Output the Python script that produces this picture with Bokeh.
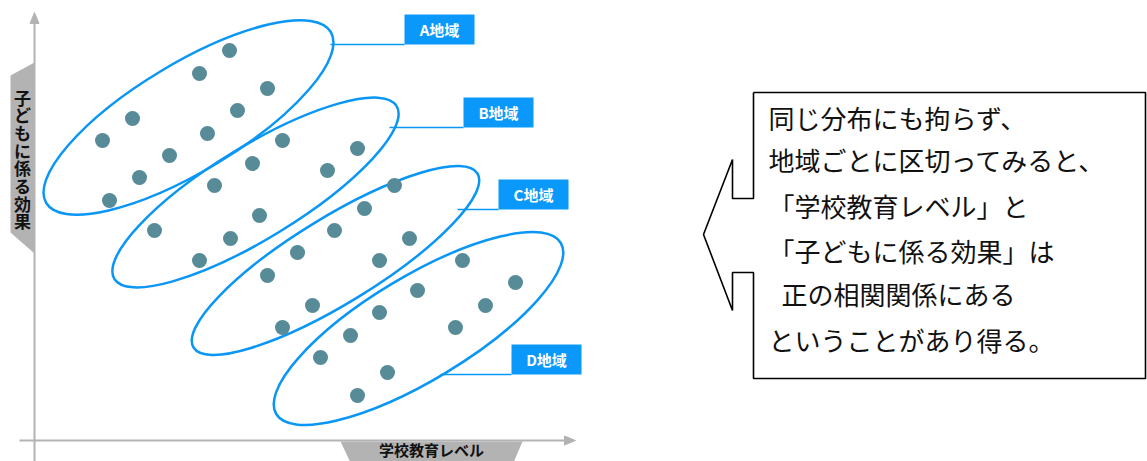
from bokeh.plotting import figure
from bokeh.models import Range1d
from bokeh.core.properties import value
from bokeh.embed import file_html
from bokeh.resources import INLINE
import math

# ---------------- data (x: 学校教育レベル, y: 子どもに係る効果) ----------------
regions = ["A地域", "B地域", "C地域", "D地域"]

a_x = [195, 165, 233, 203, 98, 68, 173, 135, 105, 75]
a_y = [390, 367, 352, 330, 322, 300, 307, 285, 263, 240]

b_x = [248, 323, 218, 293, 180, 225, 120, 196, 165]
b_y = [300, 292, 277, 270, 255, 225, 210, 202, 180]

c_x = [360, 330, 300, 375, 263, 345, 233, 278, 248]
c_y = [255, 232, 210, 202, 188, 180, 165, 135, 113]

d_x = [428, 481, 383, 451, 345, 421, 316, 286, 353, 323]
d_y = [180, 158, 150, 135, 128, 113, 105, 83, 68, 45]

x_label = "学校教育レベル"
y_label = "子どもに係る効果"
note_lines = [
    "同じ分布にも拘らず、",
    "地域ごとに区切ってみると、",
    "「学校教育レベル」と",
    "「子どもに係る効果」は",
    " 正の相関関係にある",
    "ということがあり得る。",
]

# ---------------- styles ----------------
BLUE = "#0a96f5"
DOT = "#578b97"
GRAY = "#b3b3b3"
JP = value("Noto Sans CJK JP")

p = figure(width=1147, height=461, x_range=Range1d(-34, 1113), y_range=Range1d(-21, 440),
           output_backend="svg", toolbar_location=None, min_border=0,
           x_axis_type=None, y_axis_type=None)
p.grid.visible = False
p.outline_line_color = None
p.background_fill_color = "white"

# ---- axes (drawn as arrows) ----
p.segment(x0=[0], y0=[-25], x1=[0], y1=[418], line_color=GRAY, line_width=2)
p.patch(x=[-4.5, 4.5, 0], y=[417, 417, 428], fill_color=GRAY, line_color=GRAY)
p.segment(x0=[-15], y0=[0], x1=[531], y1=[0], line_color=GRAY, line_width=2)
p.patch(x=[530, 530, 541], y=[4.5, -4.5, 0], fill_color=GRAY, line_color=GRAY)

# axis tabs
p.patch(x=[-24, 0, 0, -24], y=[365, 378, 187, 208], fill_color=GRAY, line_color=None)
p.patch(x=[306, 488, 479, 316], y=[-1, -1, -22, -22], fill_color=GRAY, line_color=None)

# y label, stacked vertically
n = len(y_label)
p.text(x=[-12] * n, y=[343.5 - 17.7 * i for i in range(n)], text=list(y_label),
       text_font=JP, text_font_style="bold", text_font_size="17px",
       text_align="center", text_baseline="middle", text_color="#111111")
p.text(x=[397], y=[-9], text=[x_label], text_font=JP, text_font_style="bold",
       text_font_size="15px", text_align="center", text_baseline="middle",
       text_color="#111111")

# ---- ellipses ----
ell_x = [154, 221, 301, 384]
ell_y = [323, 248, 180, 112]
ell_w = [332, 331, 333, 332]
ell_h = [108, 92, 86, 104]
ell_a = [31, 31.5, 31.5, 31]
p.ellipse(x=ell_x, y=ell_y, width=ell_w, height=ell_h,
          angle=[math.radians(a) for a in ell_a],
          fill_color=None, line_color=BLUE, line_width=2.5)

# ---- points ----
for xs, ys in [(a_x, a_y), (b_x, b_y), (c_x, c_y), (d_x, d_y)]:
    p.scatter(x=xs, y=ys, size=15, fill_color=DOT, line_color=None)

# ---- region labels ----
box_l = [370, 429, 464, 477]
box_b = [396, 313, 231, 66]
line_x0 = [296, 355, 423, 406]
p.segment(x0=line_x0, y0=box_b, x1=box_l, y1=box_b, line_color=BLUE, line_width=1.6)
p.quad(left=box_l, right=[v + 70 for v in box_l], bottom=box_b,
       top=[v + 30 for v in box_b], fill_color="#0a99fa", line_color=None)
p.text(x=[v + 35 for v in box_l], y=[v + 15 for v in box_b], text=regions,
       text_font=JP, text_font_style="bold", text_font_size="15px",
       text_align="center", text_baseline="middle", text_color="white")

# ---- callout ----
cx = [719, 1111, 1111, 719, 719, 698, 698, 669, 698, 698, 719, 719]
cy = [348, 348, 62, 62, 168, 168, 130, 206, 281, 242, 242, 348]
p.line(x=cx, y=cy, line_color="black", line_width=1.6)
note_x = [734, 734, 734, 734, 747, 734]
p.text(x=note_x, y=[323, 281, 235, 190, 147, 101], text=note_lines,
       text_font=JP, text_font_size="26px", text_align="left",
       text_baseline="middle", text_color="#111111")

open("out.html", "w").write(file_html(p, INLINE))
